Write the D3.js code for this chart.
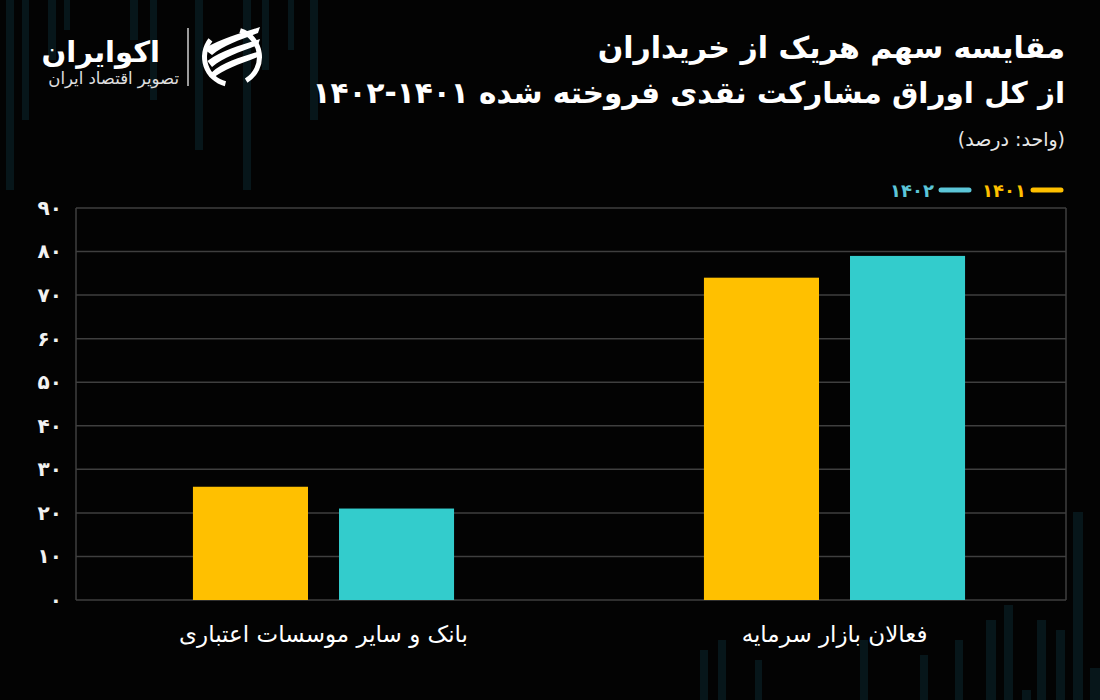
<!DOCTYPE html>
<html><head><meta charset="utf-8">
<script src="https://cdn.jsdelivr.net/npm/d3@7/dist/d3.min.js"></script>
<style>
html,body{margin:0;padding:0;background:#030303;}
svg{display:block;}
text{font-family:"DejaVu Sans",sans-serif;}
</style></head>
<body>
<svg id="c" width="1100" height="700"></svg>
<script>
const categories = ["بانک و سایر موسسات اعتباری", "فعالان بازار سرمایه"];
const seriesNames = ["۱۴۰۱", "۱۴۰۲"];
const values1401 = [26, 74];
const values1402 = [21, 79];
const yTicks = [0, 10, 20, 30, 40, 50, 60, 70, 80, 90];
const titleLines = ["مقایسه سهم هریک از خریداران", "از کل اوراق مشارکت نقدی فروخته شده ۱۴۰۱-۱۴۰۲"];
const unitLabel = "(واحد: درصد)";
const colors = ["#FFC000", "#33CCCC"];
const legendColors = ["#FFC000", "#5cc6d8"];

const toFa = n => String(n).replace(/\d/g, d => "۰۱۲۳۴۵۶۷۸۹"[d]);

const svg = d3.select("#c");
svg.append("rect").attr("width",1100).attr("height",700).attr("fill","#030303");

// faint decorative background bars
const deco = svg.append("g").attr("fill","#0b2a31").attr("opacity",0.5);
[[6,0,8,190],[22,0,7,120],[48,0,8,60],[64,0,6,30],[130,0,8,40],[150,0,7,100],[195,0,8,150],[243,0,8,190],[262,0,7,70],[288,0,6,50],[310,0,8,120],
 [986,620,10,80],[1004,605,9,95],[1022,690,9,10],[1037,620,9,80],[1056,630,9,70],[1073,512,10,188],[1090,668,10,32],
 [700,650,8,50],[718,640,8,60],[755,660,7,40],[860,640,8,60],[920,655,8,45],[955,640,8,60]]
 .forEach(b=>deco.append("rect").attr("x",b[0]).attr("y",b[1]).attr("width",b[2]).attr("height",b[3]));

const margin = {left:76, right:1066, top:208, bottom:600};
const y = d3.scaleLinear().domain([0,90]).range([margin.bottom, margin.top]);
const x0 = d3.scaleBand().domain(categories).range([68,1090]).paddingInner(0.489).paddingOuter(0.2445);
const x1 = d3.scaleBand().domain(seriesNames).range([0, x0.bandwidth()]).paddingInner(0.2123).paddingOuter(0);

// gridlines
const grid = svg.append("g");
grid.selectAll("line").data(yTicks).join("line")
  .attr("x1", margin.left).attr("x2", margin.right)
  .attr("y1", d=>y(d)).attr("y2", d=>y(d))
  .attr("stroke","#3f3f3f").attr("stroke-width",1.5);
svg.append("line").attr("x1",margin.left).attr("x2",margin.left).attr("y1",y(90)).attr("y2",y(0)).attr("stroke","#3f3f3f").attr("stroke-width",1.5);
svg.append("line").attr("x1",margin.right).attr("x2",margin.right).attr("y1",y(90)).attr("y2",y(0)).attr("stroke","#3f3f3f").attr("stroke-width",1.5);

// y axis labels
const yAxis = d3.axisLeft(y).tickValues(yTicks).tickSize(0).tickPadding(14).tickFormat(toFa);
const ya = svg.append("g").attr("transform",`translate(${margin.left},0)`).call(yAxis);
ya.select(".domain").remove();
ya.selectAll("text").attr("fill","#f2f2f2").attr("font-size",20).attr("font-weight","bold")
  .style("font-family","DejaVu Sans");

// bars
const data = categories.map((c,i)=>({cat:c, vals:[values1401[i], values1402[i]]}));
const groups = svg.append("g").selectAll("g").data(data).join("g")
  .attr("transform", d=>`translate(${x0(d.cat)},0)`);
groups.selectAll("rect").data(d=>d.vals.map((v,j)=>({s:seriesNames[j], v, j})))
  .join("rect")
  .attr("x", d=>x1(d.s)).attr("width", x1.bandwidth())
  .attr("y", d=>y(d.v)).attr("height", d=>y(0)-y(d.v))
  .attr("fill", d=>colors[d.j]);

// x axis labels
const xAxis = d3.axisBottom(x0).tickSize(0).tickPadding(0);
const xa = svg.append("g").attr("transform",`translate(0,${margin.bottom})`).call(xAxis);
xa.select(".domain").remove();
xa.selectAll("text").attr("fill","#ffffff").attr("font-size",23).attr("dy",null).attr("y",42)
  .attr("direction","rtl").style("font-family","DejaVu Sans");

// title (RTL: text-anchor start = right edge)
const tg = svg.append("g").attr("text-anchor","start").attr("direction","rtl");
tg.append("text").attr("x",1065).attr("y",58).attr("fill","#fff").attr("font-size",30).attr("font-weight","bold").text(titleLines[0]);
tg.append("text").attr("x",1065).attr("y",103).attr("fill","#fff").attr("font-size",29.5).attr("font-weight","bold").text(titleLines[1]);
tg.append("text").attr("x",1065).attr("y",146).attr("fill","#e8e8e8").attr("font-size",19).text(unitLabel);

// legend
const lg = svg.append("g");
const legendItems = [{name:seriesNames[0], c:legendColors[0], lx:1033, tx:1026},
                     {name:seriesNames[1], c:legendColors[1], lx:941, tx:934}];
legendItems.forEach(it=>{
  lg.append("line").attr("x1",it.lx).attr("x2",it.lx+28).attr("y1",190).attr("y2",190)
    .attr("stroke",it.c).attr("stroke-width",5).attr("stroke-linecap","round");
  lg.append("text").attr("x",it.tx).attr("y",197).attr("text-anchor","end").attr("fill",it.c)
    .attr("font-size",18).attr("font-weight","bold").text(it.name);
});

// logo
const logo = svg.append("g");
logo.append("text").attr("x",160).attr("y",62).attr("text-anchor","start").attr("direction","rtl")
  .attr("fill","#fff").attr("font-size",29).attr("font-weight","bold").text("اکوایران");
logo.append("text").attr("x",179).attr("y",84).attr("text-anchor","start").attr("direction","rtl")
  .attr("fill","#e0e0e0").attr("font-size",16.5).text("تصویر اقتصاد ایران");
logo.append("line").attr("x1",188).attr("x2",188).attr("y1",28).attr("y2",86).attr("stroke","#cfcfcf").attr("stroke-width",1.5);
const ic = logo.append("g").attr("transform","translate(232,57)");
ic.append("path").attr("d", d3.arc()({innerRadius:25,outerRadius:30,startAngle:-2.9,endAngle:-0.9})).attr("fill","#fff");
ic.append("path").attr("d", d3.arc()({innerRadius:25,outerRadius:30,startAngle:0.3,endAngle:2.6})).attr("fill","#fff");
[-14,-2,10].forEach(o=>{
  ic.append("path").attr("d",`M${-24+o*0.3},${o+6} C ${-8},${o-6} ${10},${o-10} ${28},${o-16} L ${26},${o-10} C ${8},${o-3} ${-8},${o+2} ${-20},${o+12} Z`).attr("fill","#fff");
});
</script>
</body></html>
